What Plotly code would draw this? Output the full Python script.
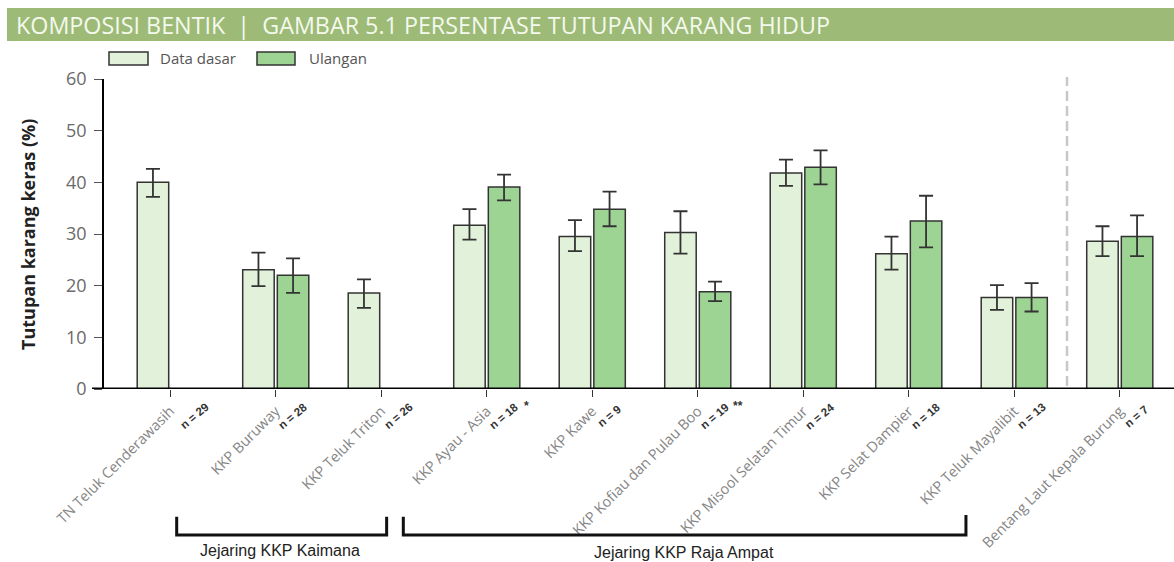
import plotly.graph_objects as go

# ---------------- data ----------------
categories = [
    "TN Teluk Cenderawasih", "KKP Buruway", "KKP Teluk Triton", "KKP Ayau - Asia",
    "KKP Kawe", "KKP Kofiau dan Pulau Boo", "KKP Misool Selatan Timur",
    "KKP Selat Dampier", "KKP Teluk Mayalibit", "Bentang Laut Kepala Burung",
]
baseline = [40.0, 23.1, 18.6, 31.7, 29.5, 30.3, 41.8, 26.2, 17.7, 28.6]
baseline_err_plus = [2.6, 3.3, 2.6, 3.1, 3.2, 4.1, 2.6, 3.3, 2.4, 2.9]
baseline_err_minus = [2.8, 3.2, 2.9, 2.8, 2.8, 4.1, 2.5, 3.1, 2.4, 2.9]
repeat = [None, 22.0, None, 39.1, 34.8, 18.8, 42.9, 32.5, 17.7, 29.5]
repeat_err_plus = [None, 3.3, None, 2.4, 3.4, 2.0, 3.3, 4.9, 2.8, 4.1]
repeat_err_minus = [None, 3.4, None, 2.6, 3.3, 1.8, 3.3, 5.1, 2.7, 3.8]
n_sites = [29, 28, 26, 18, 9, 19, 24, 18, 13, 7]
significance = ["", "", "", "*", "", "**", "", "", "", ""]
series_names = ["Data dasar", "Ulangan"]
y_ticks = [0, 10, 20, 30, 40, 50, 60]
groups = ["Jejaring KKP Kaimana", "Jejaring KKP Raja Ampat"]

# ---------------- geometry helpers ----------------
W, H = 1174, 562
L, R, T, B = 104, 0, 79, 173
PW, PH = W - L - R, H - T - B


def px(x):
    return (x - L) / PW


def py(y):
    return (H - B - y) / PH


c_base = "#e2f1da"
c_rep = "#9dd494"
c_edge = "#333333"

fig = go.Figure()
fig.add_trace(go.Bar(
    x=categories, y=baseline, name=series_names[0],
    marker=dict(color=c_base, line=dict(color=c_edge, width=1.5)),
    error_y=dict(type="data", array=baseline_err_plus, arrayminus=baseline_err_minus,
                 color=c_edge, thickness=1.8, width=7),
    showlegend=False,
))
fig.add_trace(go.Bar(
    x=categories, y=repeat, name=series_names[1],
    marker=dict(color=c_rep, line=dict(color=c_edge, width=1.5)),
    error_y=dict(type="data", array=repeat_err_plus, arrayminus=repeat_err_minus,
                 color=c_edge, thickness=1.8, width=7),
    showlegend=False,
))

shapes = []
annotations = []

# header band
shapes.append(dict(type="rect", xref="paper", yref="paper",
                   x0=px(7), x1=px(1174), y0=py(41), y1=py(8),
                   fillcolor="#9dbb77", line=dict(width=0), layer="below"))
annotations.append(dict(xref="paper", yref="paper", x=px(14), y=py(24.5),
                        xanchor="left", yanchor="middle", showarrow=False,
                        text="KOMPOSISI BENTIK  |  GAMBAR 5.1 PERSENTASE TUTUPAN KARANG HIDUP",
                        font=dict(family="Open Sans", size=23.3, color="#f4f9ee")))

# manual legend
leg_items = [(109, 148, 158, c_base, series_names[0]), (257, 295, 307, c_rep, series_names[1])]
for x0, x1, tx, col, name in leg_items:
    shapes.append(dict(type="rect", xref="paper", yref="paper",
                       x0=px(x0), x1=px(x1), y0=py(65), y1=py(52),
                       fillcolor=col, line=dict(color=c_edge, width=1.5)))
    annotations.append(dict(xref="paper", yref="paper", x=px(tx), y=py(58.5),
                            xanchor="left", yanchor="middle", showarrow=False, text=name,
                            font=dict(family="Open Sans", size=15, color="#555555")))

# y axis title
annotations.append(dict(xref="paper", yref="paper", x=px(28), y=py(235),
                        xanchor="center", yanchor="middle", showarrow=False, textangle=-90,
                        text="<b>Tutupan karang keras (%)</b>",
                        font=dict(family="Open Sans", size=18, color="#222222")))

# thick baseline extension at 0
shapes.append(dict(type="line", xref="paper", yref="y", x0=px(92), x1=1.0, y0=0, y1=0,
                   line=dict(color="black", width=3)))

# dashed separator
shapes.append(dict(type="line", xref="x", yref="paper", x0=8.5, x1=8.5,
                   y0=py(386), y1=py(77),
                   line=dict(color="#c8c8c8", width=2.5, dash="10px,5px")))

# n labels and significance markers
for i, (n, s) in enumerate(zip(n_sites, significance)):
    annotations.append(dict(xref="x", yref="paper", x=i, y=py(416), xshift=17 if i else 24,
                            xanchor="center", yanchor="middle", showarrow=False, textangle=-40,
                            text=f"<b>n = {n}</b>",
                            font=dict(family="Liberation Sans", size=11.5, color="#333333")))
    if s:
        annotations.append(dict(xref="x", yref="paper", x=i, y=py(406), xshift=40,
                                xanchor="center", yanchor="middle", showarrow=False,
                                text=f"<b>{s}</b>",
                                font=dict(family="Liberation Sans", size=12, color="#333333")))

# group brackets
brackets = [(0.061, 2.051, 516.7, 516.7, 280, 550), (2.209, 7.542, 516.7, 515, 684, 552)]
for (x0, x1, yl, yr, tx, ty), g in zip(brackets, groups):
    shapes.append(dict(type="path", xref="x", yref="paper",
                       path=f"M {x0},{py(yl)} L {x0},{py(535)} L {x1},{py(535)} L {x1},{py(yr)}",
                       line=dict(color="#111111", width=3)))
    annotations.append(dict(xref="paper", yref="paper", x=px(tx), y=py(ty),
                            xanchor="center", yanchor="middle", showarrow=False, text=g,
                            font=dict(family="Liberation Sans", size=16, color="#222222")))

fig.update_layout(
    width=W, height=H,
    margin=dict(l=L, r=R, t=T, b=B, autoexpand=False),
    paper_bgcolor="white", plot_bgcolor="white",
    barmode="group", bargap=0.344, bargroupgap=0.09,
    showlegend=False,
    shapes=shapes, annotations=annotations,
    xaxis=dict(type="category", range=[-0.628, 9.514], showgrid=False, zeroline=False,
               showline=False, ticks="outside", ticklen=7, tickwidth=1, tickcolor="#333333",
               tickangle=-45,
               tickfont=dict(family="Open Sans", size=14.5, color="#858585")),
    yaxis=dict(range=[0, 60], tickvals=y_ticks, showgrid=False, zeroline=False,
               showline=True, linecolor="black", linewidth=1.5,
               ticks="outside", ticklen=8, tickwidth=1, tickcolor="#555555",
               ticklabelstandoff=4,
               tickfont=dict(family="Open Sans", size=18, color="#6a6a6a")),
)

fig.write_html("out.html", config={"displayModeBar": False},
               post_script="document.body.style.margin='0';document.body.style.overflow='hidden';")
